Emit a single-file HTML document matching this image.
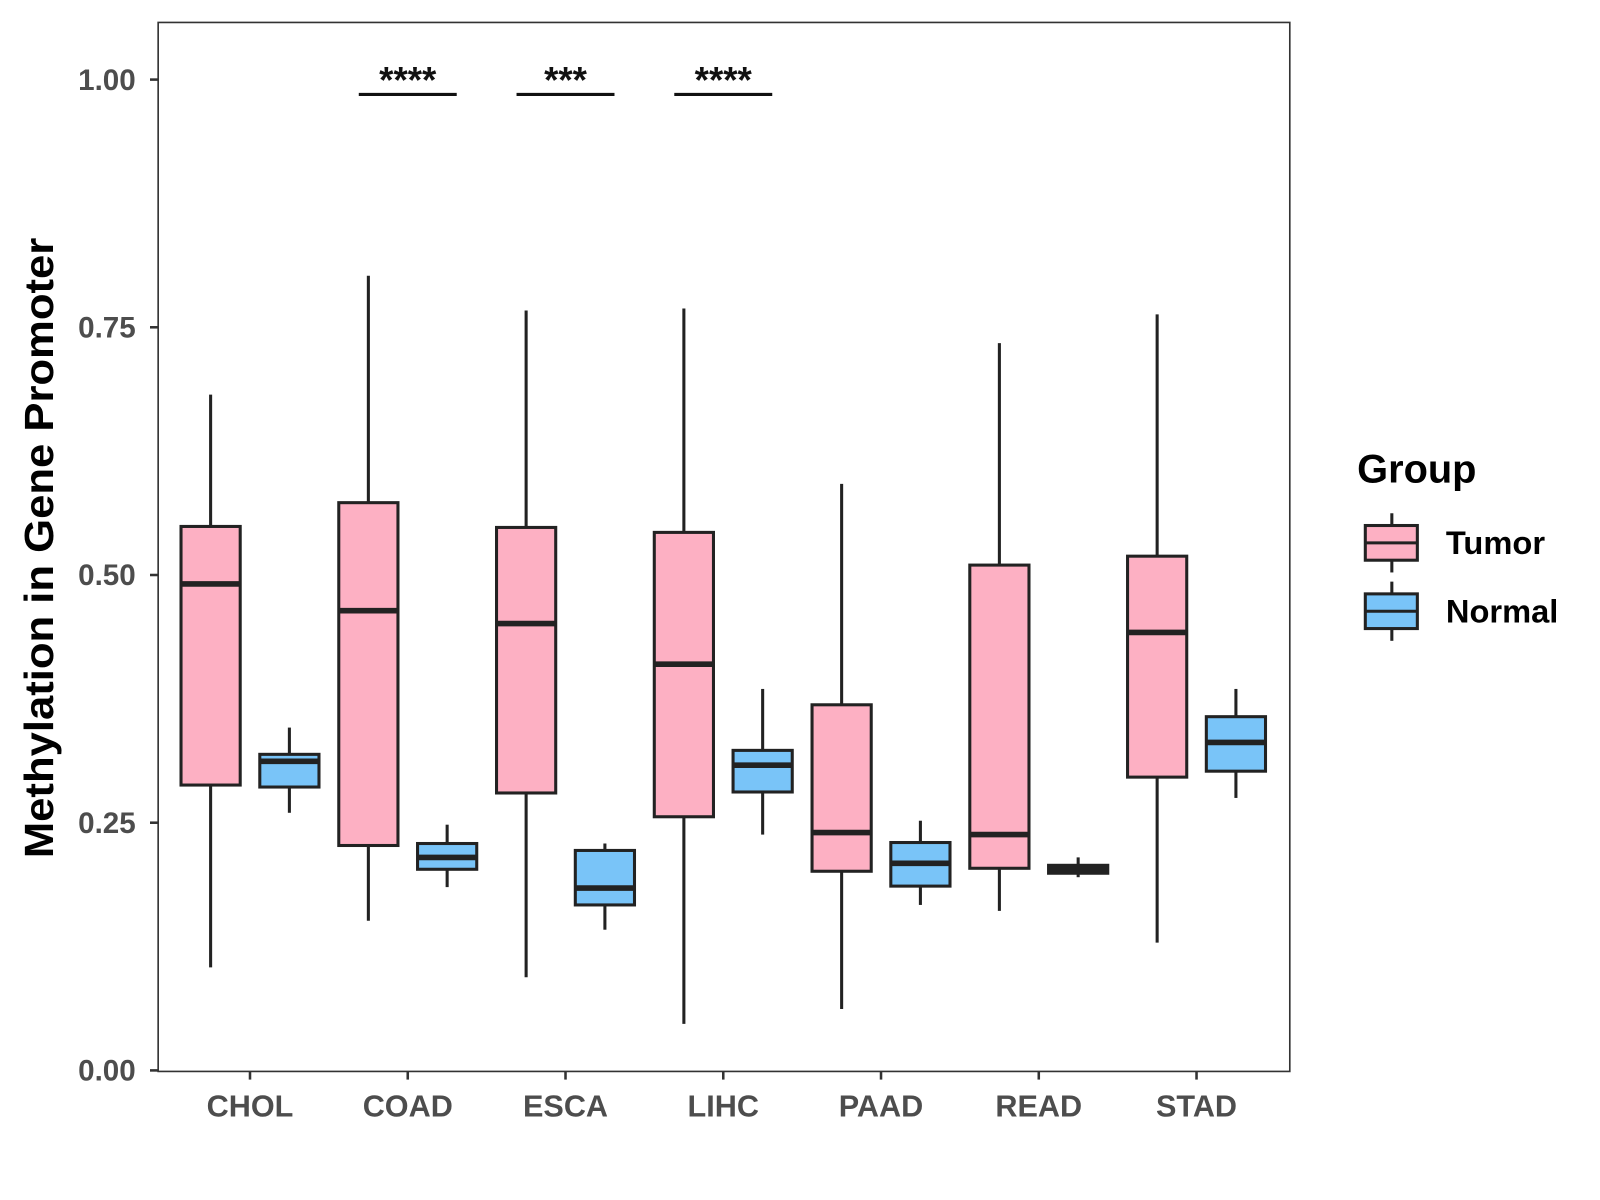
<!DOCTYPE html>
<html><head><meta charset="utf-8"><style>
html,body{margin:0;padding:0;background:#fff;}
svg{display:block;font-family:"Liberation Sans",Arial,sans-serif;}
</style></head><body>
<svg id="chart" width="1600" height="1200" viewBox="0 0 1568 1176" xmlns="http://www.w3.org/2000/svg">
<rect x="0" y="0" width="1568" height="1176" fill="#fff"/>
<g id="plot"></g>
</svg>
<script>
const categories = ["CHOL","COAD","ESCA","LIHC","PAAD","READ","STAD"];
// [lower whisker, q1, median, q3, upper whisker]
const tumorStats = [
  [0.104,0.288,0.491,0.549,0.682],
  [0.151,0.227,0.464,0.573,0.802],
  [0.094,0.280,0.451,0.548,0.767],
  [0.047,0.256,0.410,0.543,0.769],
  [0.062,0.201,0.240,0.369,0.592],
  [0.161,0.204,0.238,0.510,0.734],
  [0.129,0.296,0.442,0.519,0.763]
];
const normalStats = [
  [0.260,0.286,0.312,0.319,0.346],
  [0.185,0.203,0.215,0.229,0.248],
  [0.142,0.167,0.184,0.222,0.229],
  [0.238,0.281,0.308,0.323,0.385],
  [0.167,0.186,0.209,0.230,0.252],
  [0.195,0.199,0.203,0.207,0.215],
  [0.275,0.302,0.331,0.357,0.385]
];
const yTicks = [0, 0.25, 0.5, 0.75, 1.0];
const yTickLabels = ["0.00","0.25","0.50","0.75","1.00"];
const sigCategories = ["COAD","ESCA","LIHC"];
const sigLabels = ["****","***","****"];
const sigLevel = 0.985;

const NS="http://www.w3.org/2000/svg";
const g=document.getElementById('plot');
const L=155,R=1264,T=22,B=1050;
const y=v=>1049-v*971;
const x=i=>245+i*154.6;
const off=38.6, bw=58;
function mk(tag,attrs,parent){const e=document.createElementNS(NS,tag);for(const k in attrs)e.setAttribute(k,attrs[k]);(parent||g).appendChild(e);return e;}

const panel=mk('rect',{x:L,y:T,width:R-L,height:B-T,fill:'none',stroke:'#333',"stroke-width":1.6});



yTicks.forEach((v,i)=>{
  const t=mk('line',{x1:147,x2:L,y1:y(v),y2:y(v),stroke:'#333',"stroke-width":2.5});
  
  
  const lab=mk('text',{x:133,y:y(v)+10,"text-anchor":"end","font-size":29,"font-weight":"bold",fill:'#4d4d4d'});
  lab.textContent=yTickLabels[i];
  
  
});
categories.forEach((c,i)=>{
  const t=mk('line',{x1:x(i),x2:x(i),y1:B,y2:B+8,stroke:'#333',"stroke-width":2.5});
  
  
  const lab=mk('text',{x:x(i),y:1094,"text-anchor":"middle","font-size":30,"font-weight":"bold",fill:'#4d4d4d'});
  lab.textContent=c;
  
  
});

function box(cx,s,fill,name){
  const grp=mk('g',{});
  
  
  mk('line',{x1:cx,x2:cx,y1:y(s[4]),y2:y(s[3]),stroke:'#222',"stroke-width":3},grp);
  mk('line',{x1:cx,x2:cx,y1:y(s[1]),y2:y(s[0]),stroke:'#222',"stroke-width":3},grp);
  mk('rect',{x:cx-bw/2,y:y(s[3]),width:bw,height:Math.max(y(s[1])-y(s[3]),0.5),fill:fill,stroke:'#222',"stroke-width":3},grp);
  mk('line',{x1:cx-bw/2,x2:cx+bw/2,y1:y(s[2]),y2:y(s[2]),stroke:'#222',"stroke-width":5.5},grp);
}
categories.forEach((c,i)=>{
  box(x(i)-off,tumorStats[i],'#FDB0C3','box-tumor-'+c.toLowerCase());
  box(x(i)+off,normalStats[i],'#79C4F8','box-normal-'+c.toLowerCase());
});

sigCategories.forEach((c,k)=>{
  const i=categories.indexOf(c);
  const ln=mk('line',{x1:x(i)-48,x2:x(i)+48,y1:y(sigLevel),y2:y(sigLevel),stroke:'#111',"stroke-width":3});
  
  
  const t=mk('text',{x:x(i),y:y(sigLevel)-2,"text-anchor":"middle","font-size":36,"font-weight":"bold",fill:'#111'});
  t.textContent=sigLabels[k];
  
  
});

const yt=mk('text',{x:0,y:0,transform:'translate(52,537) rotate(-90)',"text-anchor":"middle","font-size":40,"font-weight":"bold",fill:'#000',textLength:608,lengthAdjust:'spacingAndGlyphs'});
yt.textContent='Methylation in Gene Promoter';



const lt=mk('text',{x:1330,y:473,"font-size":39,"font-weight":"bold",fill:'#000'});
lt.textContent='Group';


[['Tumor','#FDB0C3',532],['Normal','#79C4F8',599]].forEach(([n,f,cy])=>{
  const e=mk('g',{});
  
  
  mk('line',{x1:1364,x2:1364,y1:cy-29,y2:cy+29,stroke:'#222',"stroke-width":3},e);
  mk('rect',{x:1338,y:cy-17,width:51,height:34,fill:f,stroke:'#222',"stroke-width":3},e);
  mk('line',{x1:1338,x2:1389,y1:cy,y2:cy,stroke:'#222',"stroke-width":3},e);
  const t=mk('text',{x:1417,y:cy+11,"font-size":32,"font-weight":"bold",fill:'#000'},e);
  t.textContent=n;
});
</script>
</body></html>
